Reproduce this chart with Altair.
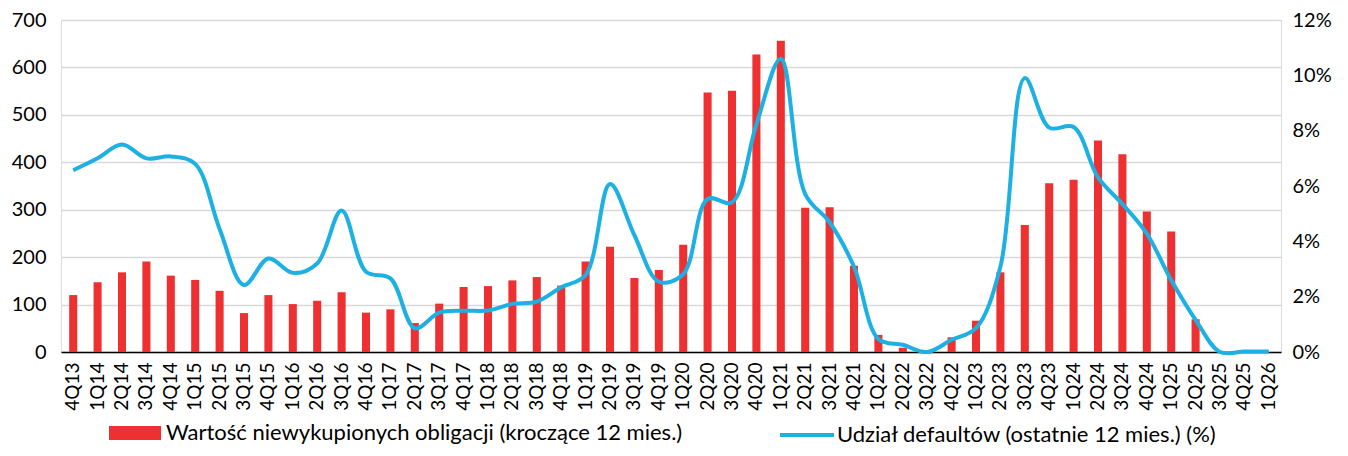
import altair as alt
import pandas as pd

quarters = [
    "4Q13", "1Q14", "2Q14", "3Q14", "4Q14", "1Q15", "2Q15", "3Q15", "4Q15",
    "1Q16", "2Q16", "3Q16", "4Q16", "1Q17", "2Q17", "3Q17", "4Q17",
    "1Q18", "2Q18", "3Q18", "4Q18", "1Q19", "2Q19", "3Q19", "4Q19",
    "1Q20", "2Q20", "3Q20", "4Q20", "1Q21", "2Q21", "3Q21", "4Q21",
    "1Q22", "2Q22", "3Q22", "4Q22", "1Q23", "2Q23", "3Q23", "4Q23",
    "1Q24", "2Q24", "3Q24", "4Q24", "1Q25", "2Q25", "3Q25", "4Q25", "1Q26",
]

bar_values = [
    120, 147, 168, 191, 161, 152, 129, 82, 120,
    101, 108, 126, 83, 90, 61, 102, 137,
    139, 151, 158, 140, 191, 222, 156, 173,
    226, 547, 551, 627, 656, 304, 305, 182,
    36, 9, 3, 31, 66, 168, 268, 356,
    363, 446, 417, 296, 254, 69, 0, 0, 0,
]

default_pct = [
    6.57, 7.0, 7.5, 7.0, 7.07, 6.8, 4.45, 2.42, 3.38,
    2.86, 3.2, 5.11, 2.9, 2.66, 0.86, 1.42, 1.49,
    1.5, 1.74, 1.82, 2.34, 2.78, 6.07, 4.22, 2.54,
    2.81, 5.53, 5.41, 8.23, 10.6, 5.71, 4.69, 3.08,
    0.47, 0.26, 0.0, 0.44, 0.86, 3.08, 9.9, 8.11,
    8.13, 6.31, 5.35, 4.28, 2.6, 1.16, 0.0, 0.02, 0.02,
]

bar_label = "Wartość niewykupionych obligacji (kroczące 12 mies.)"
line_label = "Udział defaultów (ostatnie 12 mies.) (%)"

left_ticks = [0, 100, 200, 300, 400, 500, 600, 700]
right_ticks = [0, 2, 4, 6, 8, 10, 12]

RED = "#EE3030"
BLUE = "#1DB0E3"
FONT = "Lato"

df = pd.DataFrame({
    "q": quarters,
    "bars": bar_values,
    "pct": default_pct,
    "s1": [bar_label] * len(quarters),
    "s2": [line_label] * len(quarters),
})

x = alt.X(
    "q:N",
    sort=quarters,
    title=None,
    scale=alt.Scale(paddingInner=0.67, paddingOuter=0.335),
    axis=alt.Axis(
        labelAngle=-90,
        labelAlign="right",
        labelBaseline="middle",
        labelPadding=10,
        labelFontSize=19,
        labelFont=FONT,
        labelColor="#000000",
        ticks=False,
        domain=True,
        domainColor="#000000",
        domainWidth=1.5,
        grid=False,
    ),
)

bars = alt.Chart(df).mark_bar(color=RED).encode(
    x=x,
    y=alt.Y(
        "bars:Q",
        title=None,
        scale=alt.Scale(domain=[0, 700], nice=False, zero=True),
        axis=alt.Axis(
            values=left_ticks,
            grid=True,
            gridColor="#D9D9D9",
            gridWidth=1.5,
            domain=False,
            ticks=False,
            labelPadding=15,
            labelFontSize=20,
            labelFont=FONT,
            labelColor="#000000",
        ),
    ),
    color=alt.Color(
        "s1:N",
        scale=alt.Scale(domain=[bar_label], range=[RED]),
        legend=alt.Legend(
            title=None,
            orient="none",
            legendX=48,
            legendY=387,
            padding=0,
            symbolType="M-1,-0.27L1,-0.27L1,0.27L-1,0.27Z",
            symbolSize=2704,
            symbolStrokeWidth=0,
            symbolOpacity=1,
            labelFontSize=22,
            labelFont=FONT,
            labelColor="#000000",
            labelOffset=5,
            labelLimit=800,
        ),
    ),
)

line = alt.Chart(df).mark_line(
    strokeWidth=4, interpolate="catmull-rom"
).encode(
    x=x,
    y=alt.Y(
        "pct:Q",
        title=None,
        scale=alt.Scale(domain=[0, 12], nice=False, zero=True),
        axis=alt.Axis(
            orient="right",
            values=right_ticks,
            grid=False,
            domain=False,
            ticks=False,
            labelPadding=11,
            labelFontSize=20,
            labelFont=FONT,
            labelColor="#000000",
            labelExpr="datum.value + '%'",
        ),
    ),
    strokeWidth=alt.value(4),
    stroke=alt.Stroke(
        "s2:N",
        scale=alt.Scale(domain=[line_label], range=[BLUE]),
        legend=alt.Legend(
            title=None,
            orient="none",
            legendX=717,
            legendY=386,
            padding=0,
            symbolType="stroke",
            symbolSize=2916,
            symbolStrokeWidth=4,
            labelFontSize=22,
            labelFont=FONT,
            labelColor="#000000",
            labelOffset=1,
            labelLimit=800,
        ),
    ),
)

chart = alt.layer(bars, line).resolve_scale(
    y="independent", color="independent", stroke="independent"
).properties(
    width=1220,
    height=332,
    padding={"left": 53, "top": 12, "right": 55, "bottom": 96},
    autosize=alt.AutoSizeParams(type="none"),
).configure_view(stroke=None).configure(font=FONT).configure_legend(
    symbolStrokeWidth=4
)

chart.save("out.html", embed_options={"renderer": "svg", "actions": False})
